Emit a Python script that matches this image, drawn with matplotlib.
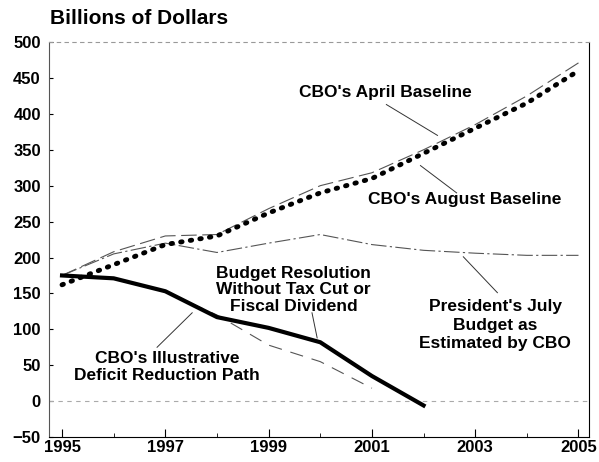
import matplotlib.pyplot as plt
import numpy as np

plt.rcParams['font.family'] = ['Liberation Sans', 'DejaVu Sans']
plt.rcParams['font.weight'] = 'bold'

years = [1995, 1996, 1997, 1998, 1999, 2000, 2001, 2002, 2003, 2004, 2005]
april_baseline = [175, 208, 230, 232, 268, 300, 318, 350, 385, 425, 471]
august_baseline = [162, 190, 218, 230, 262, 290, 310, 345, 380, 415, 460]
president_july = [175, 205, 220, 207, 220, 232, 218, 210, 206, 203, 203]

res_years = [1995, 1996, 1997, 1998, 1999, 2000, 2001, 2002]
budget_resolution = [175, 171, 153, 117, 102, 82, 35, -6]

path_years = [1995, 1996, 1997, 1998, 1999, 2000, 2001]
illustrative_path = [175, 172, 152, 120, 78, 55, 18]

fig = plt.figure(figsize=(5.99, 4.62), dpi=100)
ax = fig.add_axes([0.082, 0.054, 0.901, 0.855])

ax.axhline(0, color='#aaaaaa', lw=0.8, ls=(0, (4, 4)))
ax.plot(years, april_baseline, color='#555555', lw=0.8, ls=(0, (14, 5)))
ax.plot(years, president_july, color='#555555', lw=0.8, ls=(0, (14, 3, 2, 3)))
ax.plot(path_years, illustrative_path, color='#555555', lw=0.8, ls=(0, (12, 8)))
ax.plot(res_years, budget_resolution, color='black', lw=3)
ax.plot(years, august_baseline, color='black', lw=3.5, ls=(0, (0.3, 1.7)),
        dash_capstyle='round')

ax.set_xlim(1994.75, 2005.2)
ax.set_ylim(-50, 500)
ax.set_xticks([1995, 1997, 1999, 2001, 2003, 2005])
ax.set_xticks(years, minor=True)
ax.set_yticks(np.arange(-50, 501, 50))
ax.tick_params(axis='x', direction='in', length=6, labelsize=12, pad=2)
ax.tick_params(axis='x', which='minor', direction='in', length=3)
ax.tick_params(axis='y', direction='in', length=3, labelsize=12, pad=6)
for lab in ax.get_xticklabels() + ax.get_yticklabels():
    lab.set_fontweight('bold')

ax.spines['top'].set_linestyle((0, (3, 4)))
ax.spines['top'].set_color('#999999')
ax.spines['left'].set_color('#555555')
for s in ['left', 'right', 'bottom', 'top']:
    ax.spines[s].set_linewidth(0.8)

fig.text(0.083, 0.959, 'Billions of Dollars', fontsize=15, fontweight='bold',
         va='center', ha='left')

lab = dict(fontsize=12.5, fontweight='bold', ha='center', va='center', linespacing=1.15)
ax.text(2001.26, 430, "CBO's April Baseline", **lab)
ax.plot([2001.28, 2002.27], [413, 370], color='#333333', lw=0.7)
ax.text(2002.79, 281, "CBO's August Baseline", **lab)
ax.plot([2001.94, 2002.64], [328, 290], color='#333333', lw=0.7)
ax.text(1999.48, 155, "Budget Resolution\nWithout Tax Cut or\nFiscal Dividend", **lab)
ax.plot([1999.84, 1999.94], [123, 88], color='#333333', lw=0.7)
ax.text(1997.03, 47, "CBO's Illustrative\nDeficit Reduction Path", **lab)
ax.plot([1996.84, 1997.52], [75, 123], color='#333333', lw=0.7)
lab['linespacing'] = 1.3
ax.text(2003.39, 106, "President's July\nBudget as\nEstimated by CBO", **lab)
ax.plot([2003.43, 2002.77], [151, 201], color='#333333', lw=0.7)

fig.savefig('out.png', dpi=100)
